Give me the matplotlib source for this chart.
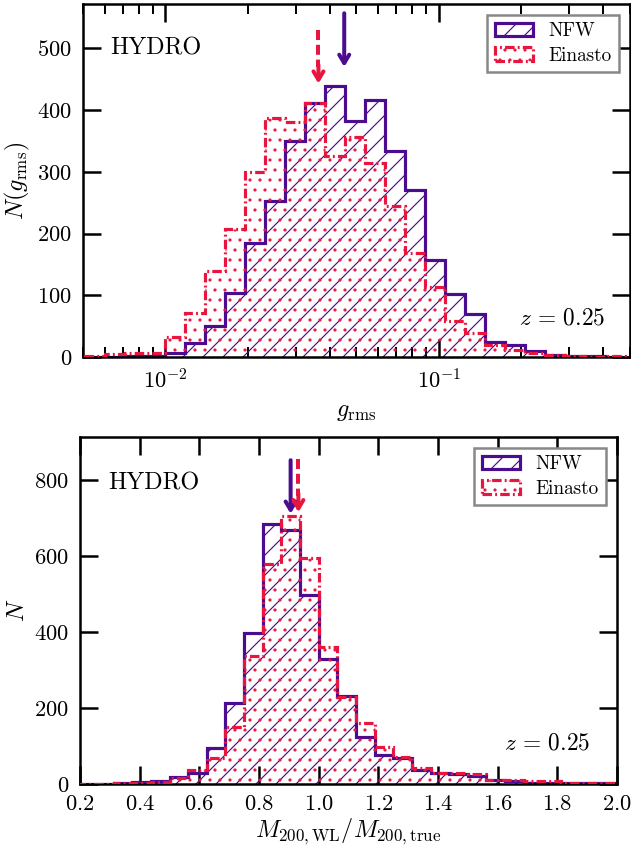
import numpy as np
import matplotlib
matplotlib.use("Agg")
import matplotlib.pyplot as plt
from matplotlib.patches import Patch

# top panel: g_rms histograms (log bins)
grms_log_lo = -2.292
grms_log_step = 0.073
grms_nbins = 27
grms_nfw = [0, 0, 1, 1, 6, 22, 50, 104, 184, 253, 350, 412, 439, 382,
            416, 333, 271, 157, 102, 70, 25, 20, 9, 4, 1, 1, 0]
grms_ein = [1, 5, 6, 6, 32, 71, 140, 207, 300, 388, 380, 412, 326, 357,
            315, 245, 168, 114, 58, 39, 20, 12, 7, 3, 1, 0, 1]
grms_med_nfw = 0.0451
grms_med_ein = 0.0363

# bottom panel: M_WL / M_true histograms
mass_edges = np.arange(0.1875, 2.0001, 0.0625)
mass_nfw = [0, 1, 2, 5, 9, 18, 28, 94, 213, 399, 685, 668, 499, 329, 232,
            125, 77, 68, 37, 28, 26, 21, 10, 8, 4, 3, 2, 2, 2]
mass_ein = [0, 1, 2, 4, 6, 15, 37, 68, 150, 336, 580, 707, 595, 362, 230,
            162, 97, 72, 41, 28, 28, 27, 10, 10, 8, 8, 4, 3, 4]
mass_med_nfw = 0.906
mass_med_ein = 0.932

PURPLE = "#4b0c8f"
RED = "#e8163f"
EIN_LS = (0, (3.0, 1.0, 0.6, 1.0))

plt.rcParams["font.family"] = "cmr10"
plt.rcParams["mathtext.fontset"] = "cm"
plt.rcParams["axes.formatter.use_mathtext"] = True
plt.rcParams["axes.unicode_minus"] = False
plt.rcParams["hatch.linewidth"] = 0.7
plt.rcParams["axes.linewidth"] = 1.5


def style_axis(ax):
    ax.tick_params(which="both", direction="in", top=True, right=True,
                   labelsize=13.5, pad=6.5)
    ax.tick_params(which="major", length=11, width=1.5)
    ax.tick_params(which="minor", length=6, width=1.2)


def draw_hists(ax, edges, nfw, ein):
    ax.stairs(nfw, edges, fill=True, facecolor="none", edgecolor=PURPLE,
              hatch="//", lw=1.9, zorder=2)
    ax.stairs(ein, edges, fill=True, facecolor="none", edgecolor=RED,
              hatch="..", lw=1.9, linestyle=EIN_LS, zorder=3)


def draw_arrow(ax, x, y_tail, y_tip, color, dashed):
    head = "->,head_length=0.5,head_width=0.3"
    if dashed:
        ax.plot([x, x], [y_tail, y_tip + 0.3 * (y_tail - y_tip)], color=color,
                lw=2.4, linestyle=(0, (2.5, 1.2)), zorder=5)
        ax.annotate("", xy=(x, y_tip), xytext=(x, y_tip + 0.35 * (y_tail - y_tip)),
                    arrowprops=dict(arrowstyle=head, color=color, lw=2.4,
                                    shrinkA=0, shrinkB=0), zorder=5)
    else:
        ax.annotate("", xy=(x, y_tip), xytext=(x, y_tail),
                    arrowprops=dict(arrowstyle=head, color=color, lw=2.4,
                                    shrinkA=0, shrinkB=0), zorder=5)


def add_legend(ax):
    handles = [Patch(facecolor="none", edgecolor=PURPLE, hatch="//", lw=1.9),
               Patch(facecolor="none", edgecolor=RED, hatch="..", lw=1.9,
                     linestyle=EIN_LS)]
    leg = ax.legend(handles, ["NFW", "Einasto"], loc="upper right",
                    fontsize=11.5, fancybox=False, framealpha=1,
                    edgecolor="#888888", borderaxespad=0.55,
                    handlelength=2.0, borderpad=0.4, labelspacing=0.35)
    leg.get_frame().set_linewidth(1.5)


def main():
    fig = plt.figure(figsize=(631 / 120, 850 / 120), dpi=120)

    # top panel
    ax1 = fig.add_axes([0.1315, 0.58, 0.8669, 0.4153])
    grms_edges = 10 ** (grms_log_lo + grms_log_step * np.arange(grms_nbins + 1))
    draw_hists(ax1, grms_edges, grms_nfw, grms_ein)
    ax1.set_xscale("log")
    ax1.set_xlim(0.005, 0.5)
    ax1.set_ylim(0, 572)
    ax1.set_yticks(np.arange(0, 501, 100))
    style_axis(ax1)
    draw_arrow(ax1, grms_med_nfw, 557, 470, PURPLE, False)
    draw_arrow(ax1, grms_med_ein, 530, 443, RED, True)
    ax1.text(0.049, 0.875, "HYDRO", transform=ax1.transAxes, fontsize=14.5,
             va="center", ha="left")
    ax1.text(0.954, 0.11, r"$z\,=\,0.25$", transform=ax1.transAxes, fontsize=14,
             va="center", ha="right")
    ax1.set_xlabel(r"$g_{\rm rms}$", fontsize=14.5, labelpad=5)
    ax1.set_ylabel(r"$N(g_{\rm rms})$", fontsize=14.5, labelpad=3)
    add_legend(ax1)

    # bottom panel
    ax2 = fig.add_axes([0.1268, 0.0776, 0.851, 0.4082])
    draw_hists(ax2, mass_edges, mass_nfw, mass_ein)
    ax2.set_xlim(0.2, 2.0)
    ax2.set_ylim(0, 914)
    ax2.set_xticks(np.arange(0.2, 2.01, 0.2))
    ax2.set_yticks(np.arange(0, 801, 200))
    style_axis(ax2)
    draw_arrow(ax2, mass_med_nfw, 853, 712, PURPLE, False)
    draw_arrow(ax2, mass_med_ein, 857, 716, RED, True)
    ax2.text(0.052, 0.865, "HYDRO", transform=ax2.transAxes, fontsize=14.5,
             va="center", ha="left")
    ax2.text(0.95, 0.118, r"$z\,=\,0.25$", transform=ax2.transAxes, fontsize=14,
             va="center", ha="right")
    ax2.set_xlabel(r"$M_{200,{\rm WL}}/M_{200,{\rm true}}$", fontsize=14.5,
                   labelpad=1)
    ax2.set_ylabel(r"$N$", fontsize=14.5, labelpad=3)
    add_legend(ax2)

    fig.savefig("out.png", dpi=120)


if __name__ == "__main__":
    main()
